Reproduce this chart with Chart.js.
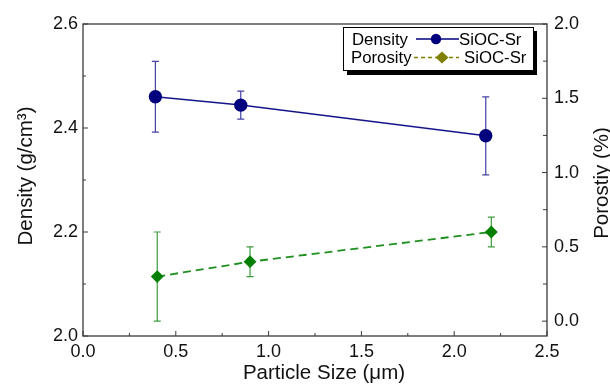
<!DOCTYPE html>
<html><head><meta charset="utf-8">
<style>html,body{margin:0;padding:0;background:#fff}#wrap{width:610px;height:386px}</style>
<script src="https://cdn.jsdelivr.net/npm/chart.js@4/dist/chart.umd.min.js"></script>
</head><body><div id="wrap"><canvas id="c" width="610" height="386"></canvas></div>
<script>
const densityX = [0.39, 0.85, 2.17];
const densityY = [2.46, 2.444, 2.385];
const densityErr = [0.068, 0.027, 0.075];
const porosityX = [0.40, 0.90, 2.20];
const porosityY = [0.30, 0.40, 0.60];
const porosityErr = [0.30, 0.10, 0.10];
const xTicks = [0, 0.5, 1.0, 1.5, 2.0, 2.5];
const yTicks = [2.0, 2.2, 2.4, 2.6];
const y2Ticks = [0, 0.5, 1.0, 1.5, 2.0];
const seriesNames = ['Density', 'Porosity'];
const sampleName = 'SiOC-Sr';
const xTitle = 'Particle Size (\u03bcm)';
const yTitle = 'Density (g/cm\u00b3)';
const y2Title = 'Porostiy (%)';

const FONT = '"Liberation Sans", Arial, sans-serif';
const mids = a => a.slice(0, -1).map((v, i) => (v + a[i + 1]) / 2);

const errorBars = {
  id: 'errorBars',
  beforeDatasetsDraw(chart) {
    const ctx = chart.ctx;
    const sx = chart.scales.x;
    const sets = [
      {xs: densityX, ys: densityY, es: densityErr, sc: chart.scales.y, col: '#4242a6'},
      {xs: porosityX, ys: porosityY, es: porosityErr, sc: chart.scales.y2, col: '#3c9c3c'}
    ];
    ctx.save();
    ctx.lineWidth = 1.2;
    sets.forEach(s => {
      ctx.strokeStyle = s.col;
      s.xs.forEach((x, i) => {
        const px = sx.getPixelForValue(x);
        const t = s.sc.getPixelForValue(s.ys[i] + s.es[i]);
        const b = s.sc.getPixelForValue(s.ys[i] - s.es[i]);
        ctx.beginPath();
        ctx.moveTo(px, t); ctx.lineTo(px, b);
        ctx.moveTo(px - 3.5, t); ctx.lineTo(px + 3.5, t);
        ctx.moveTo(px - 3.5, b); ctx.lineTo(px + 3.5, b);
        ctx.stroke();
      });
    });
    ctx.restore();
  }
};

const frame = {
  id: 'frame',
  afterDraw(chart) {
    const ctx = chart.ctx;
    const a = chart.chartArea;
    const sx = chart.scales.x, sy = chart.scales.y, sy2 = chart.scales.y2;
    ctx.save();
    ctx.strokeStyle = '#3a3a3a';
    ctx.lineWidth = 1.3;
    ctx.strokeRect(a.left, a.top, a.right - a.left, a.bottom - a.top);
    ctx.lineWidth = 1;
    ctx.beginPath();
    xTicks.forEach(v => { const p = sx.getPixelForValue(v); ctx.moveTo(p, a.bottom); ctx.lineTo(p, a.bottom - 5); });
    mids(xTicks).forEach(v => { const p = sx.getPixelForValue(v); ctx.moveTo(p, a.bottom); ctx.lineTo(p, a.bottom - 3); });
    yTicks.forEach(v => { const p = sy.getPixelForValue(v); ctx.moveTo(a.left, p); ctx.lineTo(a.left + 5, p); });
    mids(yTicks).forEach(v => { const p = sy.getPixelForValue(v); ctx.moveTo(a.left, p); ctx.lineTo(a.left + 3, p); });
    y2Ticks.forEach(v => { const p = sy2.getPixelForValue(v); ctx.moveTo(a.right, p); ctx.lineTo(a.right - 5, p); });
    mids(y2Ticks).forEach(v => { const p = sy2.getPixelForValue(v); ctx.moveTo(a.right, p); ctx.lineTo(a.right - 4, p); });
    ctx.stroke();

    // axis titles
    ctx.fillStyle = '#111';
    ctx.font = '20.5px ' + FONT;
    ctx.textAlign = 'center';
    ctx.textBaseline = 'alphabetic';
    ctx.fillText(xTitle, 324, 378.5);
    ctx.save();
    ctx.translate(31.5, 176);
    ctx.rotate(-Math.PI / 2);
    ctx.fillText(yTitle, 0, 0);
    ctx.restore();
    ctx.save();
    ctx.translate(608, 183);
    ctx.rotate(-Math.PI / 2);
    ctx.fillText(y2Title, 0, 0);
    ctx.restore();

    // legend
    const L = 343, T = 27, W = 190, H = 43;
    ctx.fillStyle = '#000';
    ctx.fillRect(L + 4, T + 4, W, H + 1);
    ctx.fillStyle = '#fff';
    ctx.fillRect(L, T, W, H);
    ctx.strokeStyle = '#000';
    ctx.lineWidth = 1;
    ctx.strokeRect(L + 0.5, T + 0.5, W, H);
    ctx.font = '16.8px ' + FONT;
    ctx.textAlign = 'left';
    ctx.textBaseline = 'middle';
    ctx.fillStyle = '#000';
    ctx.fillText(seriesNames[0], 352, 40);
    ctx.fillText(sampleName, 459, 40);
    ctx.fillText(seriesNames[1], 351, 58);
    ctx.fillText(sampleName, 464, 58);
    ctx.strokeStyle = '#00007f';
    ctx.lineWidth = 1.5;
    ctx.beginPath(); ctx.moveTo(416, 39); ctx.lineTo(459, 39); ctx.stroke();
    ctx.fillStyle = '#00007f';
    ctx.beginPath(); ctx.arc(436, 39, 5.2, 0, Math.PI * 2); ctx.fill();
    ctx.strokeStyle = '#808000';
    ctx.setLineDash([4, 3]);
    ctx.beginPath(); ctx.moveTo(414, 57.5); ctx.lineTo(459, 57.5); ctx.stroke();
    ctx.setLineDash([]);
    ctx.fillStyle = '#808000';
    ctx.beginPath();
    ctx.moveTo(442 - 6.5, 57.5); ctx.lineTo(442, 51.5); ctx.lineTo(442 + 6.5, 57.5); ctx.lineTo(442, 63.5);
    ctx.closePath(); ctx.fill();
    ctx.restore();
  }
};

const tickFont = {family: FONT, size: 18};
new Chart(document.getElementById('c'), {
  type: 'scatter',
  data: {
    datasets: [
      {
        label: seriesNames[0],
        data: densityX.map((x, i) => ({x, y: densityY[i]})),
        yAxisID: 'y',
        showLine: true,
        borderColor: '#15158a',
        borderWidth: 1.5,
        pointStyle: 'circle',
        pointRadius: 6.7,
        pointBackgroundColor: '#00007f',
        pointBorderColor: '#00007f',
        pointBorderWidth: 0
      },
      {
        label: seriesNames[1],
        data: porosityX.map((x, i) => ({x, y: porosityY[i]})),
        yAxisID: 'y2',
        showLine: true,
        borderColor: '#1f8f1f',
        borderWidth: 1.8,
        borderDash: [8, 5],
        pointStyle: 'rectRot',
        pointRadius: 6.4,
        pointBackgroundColor: '#007f00',
        pointBorderColor: '#007f00',
        pointBorderWidth: 0
      }
    ]
  },
  options: {
    responsive: false,
    animation: false,
    devicePixelRatio: 1,
    layout: {padding: {top: 24, left: 0, right: 0, bottom: 0}},
    plugins: {legend: {display: false}, tooltip: {enabled: false}},
    scales: {
      x: {
        type: 'linear', position: 'bottom', min: 0, max: 2.5,
        afterBuildTicks: s => { s.ticks = xTicks.map(v => ({value: v})); },
        afterFit: s => { s.height = 50; },
        grid: {display: false, drawTicks: false},
        border: {display: false},
        ticks: {font: tickFont, color: '#111', padding: 5, maxRotation: 0, callback: v => Number(v).toFixed(1)}
      },
      y: {
        type: 'linear', position: 'left', min: 2.0, max: 2.6,
        afterBuildTicks: s => { s.ticks = yTicks.map(v => ({value: v})); },
        afterFit: s => { s.width = 83; },
        grid: {display: false, drawTicks: false},
        border: {display: false},
        ticks: {font: tickFont, color: '#111', padding: 5, callback: v => Number(v).toFixed(1)}
      },
      y2: {
        type: 'linear', position: 'right', min: -0.1, max: 2.0,
        afterBuildTicks: s => { s.ticks = y2Ticks.map(v => ({value: v})); },
        afterFit: s => { s.width = 63; },
        grid: {display: false, drawTicks: false},
        border: {display: false},
        ticks: {font: tickFont, color: '#111', padding: 7, callback: v => Number(v).toFixed(1)}
      }
    }
  },
  plugins: [errorBars, frame]
});
</script>
</body></html>
